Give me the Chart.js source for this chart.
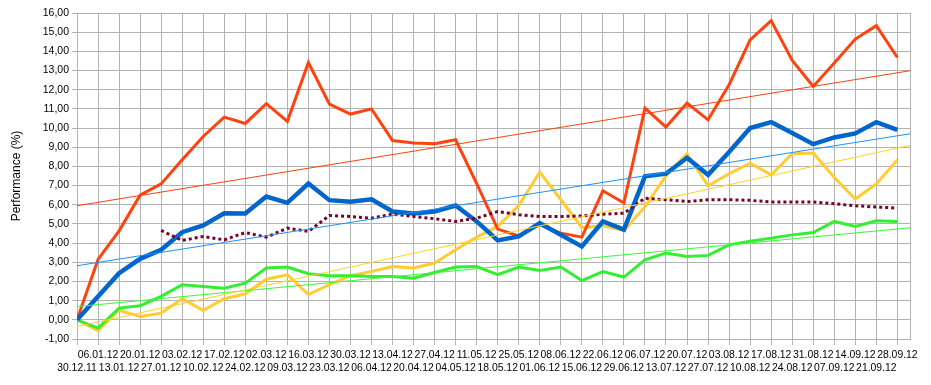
<!DOCTYPE html>
<html>
<head>
<meta charset="utf-8">
<script src="https://cdn.jsdelivr.net/npm/chart.js@4/dist/chart.umd.min.js"></script>
<style>
  body { margin: 0; background: #fff; }
</style>
</head>
<body>
<canvas id="perfChart" width="931" height="385"></canvas>
<script>
const dates = ['30.12.11','06.01.12','13.01.12','20.01.12','27.01.12','03.02.12','10.02.12','17.02.12','24.02.12','02.03.12',
  '09.03.12','16.03.12','23.03.12','30.03.12','06.04.12','13.04.12','20.04.12','27.04.12','04.05.12','11.05.12',
  '18.05.12','25.05.12','01.06.12','08.06.12','15.06.12','22.06.12','29.06.12','06.07.12','13.07.12','20.07.12',
  '27.07.12','03.08.12','10.08.12','17.08.12','24.08.12','31.08.12','07.09.12','14.09.12','21.09.12','28.09.12'];

const orangeSeries = [0,3.15,4.64,6.5,7.09,8.35,9.56,10.57,10.24,11.27,10.35,13.42,11.25,10.73,11.0,9.35,9.22,9.18,9.39,7.1,
  4.73,4.38,4.96,4.52,4.31,6.73,6.09,11.04,10.05,11.3,10.43,12.26,14.6,15.6,13.53,12.17,13.39,14.64,15.34,13.68];
const blueSeries = [0,1.22,2.43,3.18,3.65,4.57,4.92,5.56,5.55,6.43,6.1,7.11,6.24,6.16,6.29,5.65,5.55,5.65,5.96,5.13,
  4.14,4.35,5.04,4.43,3.83,5.13,4.7,7.48,7.62,8.45,7.56,8.75,10.0,10.31,9.74,9.16,9.51,9.72,10.31,9.91];
const yellowSeries = [0,-0.56,0.5,0.17,0.35,1.1,0.49,1.1,1.36,2.12,2.35,1.32,1.83,2.3,2.52,2.78,2.7,2.96,3.65,4.31,
  4.87,5.96,7.7,6.26,4.82,4.9,4.65,5.9,7.51,8.66,6.99,7.62,8.17,7.56,8.66,8.7,7.42,6.3,7.09,8.35];
const greenSeries = [0,-0.43,0.61,0.73,1.22,1.83,1.74,1.65,1.91,2.7,2.75,2.4,2.3,2.3,2.26,2.26,2.17,2.47,2.75,2.78,
  2.35,2.75,2.57,2.75,2.05,2.52,2.23,3.13,3.48,3.3,3.36,3.91,4.1,4.26,4.43,4.55,5.13,4.87,5.16,5.13];
const avgSeries = [null,null,null,null,4.66,4.14,4.35,4.17,4.55,4.31,4.78,4.61,5.44,5.39,5.3,5.51,5.39,5.27,5.13,5.3,
  5.65,5.48,5.39,5.39,5.42,5.51,5.56,6.34,6.26,6.17,6.26,6.26,6.23,6.14,6.14,6.14,6.05,5.95,5.88,5.83];

// trend lines: value at start and at end of the x axis
const orangeTrend = [5.95, 12.99];
const blueTrend = [2.82, 9.7];
const yellowTrend = [-0.35, 9.1];
const greenTrend = [0.69, 4.8];

const xMax = 39.6;
const gridColor = '#b3b3b3';

Chart.defaults.font.family = "'Liberation Sans', Arial, sans-serif";
Chart.defaults.color = '#000';

function pts(arr) {
  return arr.map((v, i) => ({ x: i, y: v }));
}
function trend(t) {
  return [{ x: 0, y: t[0] }, { x: xMax, y: t[1] }];
}
function line(data, color, width, extra) {
  return Object.assign({
    data: data,
    borderColor: color,
    borderWidth: width,
    pointRadius: 0,
    tension: 0,
    fill: false,
    spanGaps: false
  }, extra || {});
}

// right edge of the plot frame
const plotBorder = {
  id: 'plotBorder',
  beforeDatasetsDraw(chart) {
    const c = chart.ctx, a = chart.chartArea;
    c.save();
    c.strokeStyle = gridColor;
    c.lineWidth = 1;
    c.beginPath();
    c.moveTo(Math.round(a.right) + 0.5, a.top);
    c.lineTo(Math.round(a.right) + 0.5, a.bottom);
    c.stroke();
    c.restore();
  }
};

new Chart(document.getElementById('perfChart'), {
  type: 'line',
  data: {
    datasets: [
      line(trend(orangeTrend), '#ff420e', 1),
      line(trend(blueTrend), '#1e90ff', 1),
      line(trend(yellowTrend), '#ffd320', 1),
      line(trend(greenTrend), '#33ff33', 1),
      line(pts(avgSeries), '#7e0021', 3, { borderDash: [3, 3], borderCapStyle: 'butt' }),
      line(pts(blueSeries), '#0066cc', 4.5),
      line(pts(orangeSeries), '#ff420e', 3),
      line(pts(greenSeries), '#33ee33', 3),
      line(pts(yellowSeries), '#ffcc33', 3)
    ]
  },
  options: {
    responsive: false,
    animation: false,
    layout: { padding: { top: 13, right: 21, left: 0, bottom: 0 } },
    plugins: { legend: { display: false }, tooltip: { enabled: false } },
    scales: {
      x: {
        type: 'linear',
        min: 0,
        max: xMax,
        afterFit: s => { s.height = 46; },
        grid: { color: gridColor, tickLength: 6, tickColor: gridColor },
        border: { color: gridColor },
        ticks: {
          stepSize: 1,
          includeBounds: false,
          autoSkip: false,
          maxRotation: 0,
          padding: 4,
          font: { size: 10.4, lineHeight: 1.2 },
          callback: function (v) {
            const lbl = dates[v];
            if (lbl === undefined) return '';
            return v % 2 === 0 ? ['', lbl] : [lbl, ''];
          }
        }
      },
      y: {
        min: -1,
        max: 16,
        afterFit: s => { s.width = 77; },
        grid: { color: gridColor, tickLength: 5, tickColor: gridColor },
        border: { color: gridColor },
        title: { display: true, text: 'Performance (%)', font: { size: 12 }, padding: { top: 9, bottom: 0 } },
        ticks: {
          stepSize: 1,
          padding: 3,
          font: { size: 10.5 },
          callback: v => v.toFixed(2).replace('.', ',')
        }
      }
    }
  },
  plugins: [plotBorder]
});
</script>
</body>
</html>
